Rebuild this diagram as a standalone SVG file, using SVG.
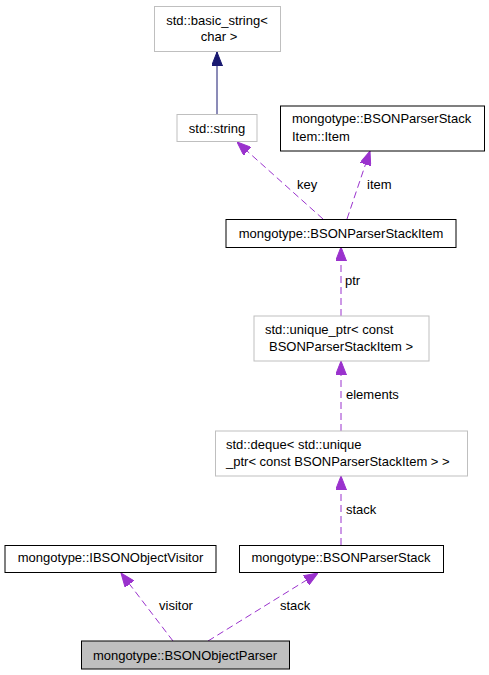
<svg xmlns="http://www.w3.org/2000/svg" width="489" height="675" viewBox="0 0 489 675">
<style>
text{font-family:"Liberation Sans",Arial,sans-serif;font-size:13px;fill:#000}
.c{text-anchor:middle}
.doc{fill:#fff;stroke:#000;stroke-width:1}
.ext{fill:#fff;stroke:#bfbfbf;stroke-width:1}
.main{fill:#bfbfbf;stroke:#000;stroke-width:1}
.dash{fill:none;stroke:#9a32cd;stroke-width:1;stroke-dasharray:7,4}
.solid{fill:none;stroke:#191970;stroke-width:1}
</style>
<defs>
<marker id="ap" viewBox="0 0 14 11" refX="14" refY="5.5" markerWidth="14" markerHeight="11" markerUnits="userSpaceOnUse" orient="auto"><path d="M0,0 L14,5.5 L0,11 z" fill="#9a32cd" stroke="#9a32cd"/></marker>
<marker id="an" viewBox="0 0 14 11" refX="14" refY="5.5" markerWidth="14" markerHeight="11" markerUnits="userSpaceOnUse" orient="auto"><path d="M0,0 L14,5.5 L0,11 z" fill="#191970" stroke="#191970"/></marker>
</defs>
<g id="edges">
<path class="solid" d="M217,114 L217,52" marker-end="url(#an)"/>
<path class="dash" d="M323,219 L237,142" marker-end="url(#ap)"/>
<path class="dash" d="M347,219 L370,151" marker-end="url(#ap)"/>
<path class="dash" d="M341,316 L341,247" marker-end="url(#ap)"/>
<path class="dash" d="M341,431 L341,361" marker-end="url(#ap)"/>
<path class="dash" d="M341,545 L341,476" marker-end="url(#ap)"/>
<path class="dash" d="M173,641 L121,573" marker-end="url(#ap)"/>
<path class="dash" d="M208,641 L318,573" marker-end="url(#ap)"/>
<text x="297" y="189">key</text>
<text x="367" y="189">item</text>
<text x="345" y="285">ptr</text>
<text x="346" y="399">elements</text>
<text x="346" y="514">stack</text>
<text x="159" y="610">visitor</text>
<text x="280" y="610">stack</text>
</g>
<g id="basic_string">
<rect class="ext" x="154.5" y="6.5" width="126" height="45"/>
<text class="c" x="217" y="24.5">std::basic_string&lt;</text>
<text class="c" x="219" y="41">char &gt;</text>
</g>
<g id="string">
<rect class="ext" x="177" y="114.5" width="80" height="27"/>
<text class="c" x="217" y="132.5">std::string</text>
</g>
<g id="stackitem_item">
<rect class="doc" x="280.5" y="106" width="204" height="45"/>
<text x="292" y="123">mongotype::BSONParserStack</text>
<text x="292" y="140.5">Item::Item</text>
</g>
<g id="stackitem">
<rect class="doc" x="226" y="219.5" width="230" height="28"/>
<text class="c" x="341" y="238">mongotype::BSONParserStackItem</text>
</g>
<g id="unique_ptr">
<rect class="ext" x="254" y="316" width="175" height="45"/>
<text x="265" y="333.5">std::unique_ptr&lt; const</text>
<text x="269" y="351">BSONParserStackItem &gt;</text>
</g>
<g id="deque">
<rect class="ext" x="215.5" y="431" width="252" height="45"/>
<text x="226" y="448.5">std::deque&lt; std::unique</text>
<text x="226" y="465.5">_ptr&lt; const BSONParserStackItem &gt; &gt;</text>
</g>
<g id="parserstack">
<rect class="doc" x="239.5" y="545.5" width="204" height="27"/>
<text class="c" x="341" y="562">mongotype::BSONParserStack</text>
</g>
<g id="visitor">
<rect class="doc" x="5" y="545.5" width="211" height="27"/>
<text class="c" x="110.5" y="562">mongotype::IBSONObjectVisitor</text>
</g>
<g id="objectparser">
<rect class="main" x="81.5" y="641" width="208" height="28"/>
<text class="c" x="185" y="659.5">mongotype::BSONObjectParser</text>
</g>
</svg>
